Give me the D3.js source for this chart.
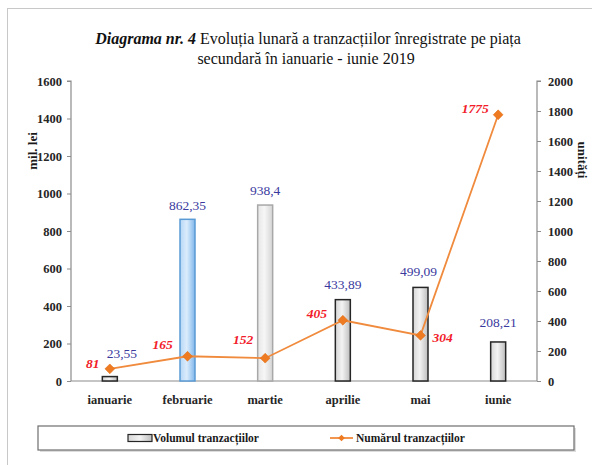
<!DOCTYPE html>
<html><head><meta charset="utf-8">
<script src="https://cdn.jsdelivr.net/npm/d3@7"></script>
<style>
html,body{margin:0;padding:0;background:#fff;}
svg{display:block;font-family:"Liberation Serif","Times New Roman",serif;}
svg text{font-family:"Liberation Serif","Times New Roman",serif;}
</style></head>
<body>
<svg id="c" width="592" height="465"></svg>
<script>
// ---- data ----
const categories = ["ianuarie","februarie","martie","aprilie","mai","iunie"];
const volume = [23.55, 862.35, 938.4, 433.89, 499.09, 208.21];
const volumeLabels = ["23,55","862,35","938,4","433,89","499,09","208,21"];
const counts = [81, 165, 152, 405, 304, 1775];
const leftTicks = [0,200,400,600,800,1000,1200,1400,1600];
const rightTicks = [0,200,400,600,800,1000,1200,1400,1600,1800,2000];

// ---- layout ----
const svg = d3.select("#c");
const L = 71, R = 537, T = 81, B = 381;
const x = d3.scaleBand().domain(categories).range([L, R]);
const yL = d3.scaleLinear().domain([0,1600]).range([B, T]);
const yR = d3.scaleLinear().domain([0,2000]).range([B, T]);

// frame
svg.append("line").attr("x1",7).attr("x2",592).attr("y1",8.5).attr("y2",8.5).attr("stroke","#c8c8c8");
svg.append("line").attr("x1",7.5).attr("x2",7.5).attr("y1",8).attr("y2",465).attr("stroke","#c8c8c8");

// gradients
const defs = svg.append("defs");
function grad(id, stops){
  const g = defs.append("linearGradient").attr("id",id).attr("x1","0").attr("x2","1").attr("y1","0").attr("y2","0");
  stops.forEach(s=>g.append("stop").attr("offset",s[0]).attr("stop-color",s[1]));
}
grad("gGray",[[0,"#d6d6d6"],[0.45,"#f3f3f3"],[1,"#bdbdbd"]]);
grad("gBlue",[[0,"#b5d7f6"],[0.45,"#dcecfc"],[1,"#7fb6ea"]]);
grad("gLight",[[0,"#e6e6e6"],[0.45,"#f6f6f6"],[1,"#d4d4d4"]]);
grad("gLeg",[[0,"#d6d6d6"],[0.5,"#f3f3f3"],[1,"#bdbdbd"]]);
const barStyle = c => c==="februarie" ? {fill:"url(#gBlue)",stroke:"#5b9bd5"}
                  : c==="martie" ? {fill:"url(#gLight)",stroke:"#a8a8a8"}
                  : {fill:"url(#gGray)",stroke:"#262626"};

// title
const title = svg.append("text").attr("x",308).attr("y",44).attr("text-anchor","middle")
  .attr("font-size",16).attr("fill","#111");
title.append("tspan").attr("font-weight","bold").attr("font-style","italic").text("Diagrama nr. 4");
title.append("tspan").text(" Evoluția lunară a tranzacțiilor înregistrate pe piața");
svg.append("text").attr("x",306).attr("y",64).attr("text-anchor","middle").attr("font-size",16)
  .attr("fill","#111").text("secundară în ianuarie - iunie 2019");

// axes
const fmt = d3.format("d");
const axL = svg.append("g").attr("transform",`translate(${L},0)`)
  .call(d3.axisLeft(yL).tickValues(leftTicks).tickFormat(fmt).tickSize(4).tickPadding(5));
const axR = svg.append("g").attr("transform",`translate(${R},0)`)
  .call(d3.axisRight(yR).tickValues(rightTicks).tickFormat(fmt).tickSize(4).tickPadding(7));
[axL,axR].forEach(a=>{
  a.attr("font-family",null);
  a.select(".domain").attr("stroke","#8c8c8c").attr("stroke-width",1.2);
  a.selectAll(".tick line").attr("stroke","#8c8c8c");
  a.selectAll(".tick text").attr("font-size",12.5)
    .attr("font-weight","bold").attr("fill","#262626");
});
axR.select(".domain").attr("d",`M4,${T}H0V${B}`);
axL.select(".domain").attr("d",`M-4,${T}H0V${B}`);
// x axis baseline
svg.append("line").attr("x1",L).attr("x2",R).attr("y1",B).attr("y2",B).attr("stroke","#8c8c8c").attr("stroke-width",1.2);

// axis titles
svg.append("text").attr("transform",`translate(37,151) rotate(-90)`).attr("text-anchor","middle")
  .attr("font-size",13).attr("font-weight","bold").attr("fill","#1a1a1a").text("mil. lei");
svg.append("text").attr("transform",`translate(578,160) rotate(90)`).attr("text-anchor","middle")
  .attr("font-size",13).attr("font-weight","bold").attr("fill","#1a1a1a").text("unități");

// category labels
svg.selectAll("text.cat").data(categories).join("text").attr("class","cat")
  .attr("x",d=>x(d)+x.bandwidth()/2).attr("y",404).attr("text-anchor","middle")
  .attr("font-size",12.5).attr("font-weight","bold").attr("fill","#262626").text(d=>d);

// bars
const bw = 15;
svg.selectAll("rect.bar").data(categories).join("rect").attr("class","bar")
  .attr("x",d=>x(d)+x.bandwidth()/2-bw/2).attr("width",bw)
  .attr("y",(d,i)=>yL(volume[i])).attr("height",(d,i)=>B-yL(volume[i]))
  .attr("fill",d=>barStyle(d).fill).attr("stroke",d=>barStyle(d).stroke).attr("stroke-width",1.5);

// bar labels (offsets relative to bar top / center)
const volOff = [[12,-19],[0,-9],[0,-10],[0,-11],[-2,-11],[0,-15]];
svg.selectAll("text.vl").data(categories).join("text").attr("class","vl")
  .attr("x",(d,i)=>x(d)+x.bandwidth()/2+volOff[i][0])
  .attr("y",(d,i)=>yL(volume[i])+volOff[i][1])
  .attr("text-anchor","middle").attr("font-size",13.5).attr("fill","#3a3a9e")
  .text((d,i)=>volumeLabels[i]);

// line
const cx = d=>x(d)+x.bandwidth()/2;
svg.append("path").datum(categories)
  .attr("d",d3.line().x(d=>cx(d)).y((d,i)=>yR(counts[i])))
  .attr("fill","none").attr("stroke","#f08a3c").attr("stroke-width",1.8);
svg.selectAll("path.mk").data(categories).join("path").attr("class","mk")
  .attr("d",d3.symbol(d3.symbolSquare,48))
  .attr("transform",(d,i)=>`translate(${cx(d)},${yR(counts[i])}) rotate(45)`)
  .attr("fill","#ee7a22").attr("stroke","#e06a10").attr("stroke-width",0.5);

// count labels
const cntOff = [[-17,-1],[-25,-7],[-22,-14],[-26,-2],[22,7],[-23,-2]];
svg.selectAll("text.cl").data(categories).join("text").attr("class","cl")
  .attr("x",(d,i)=>cx(d)+cntOff[i][0]).attr("y",(d,i)=>yR(counts[i])+cntOff[i][1])
  .attr("text-anchor","middle").attr("font-size",13.5).attr("font-weight","bold").attr("font-style","italic")
  .attr("fill","#f21c2a").text((d,i)=>counts[i]);

// legend
svg.append("rect").attr("x",40).attr("y",428).attr("width",536).attr("height",24)
  .attr("fill","#bbb").attr("opacity",0.5);
svg.append("rect").attr("x",38).attr("y",426).attr("width",536).attr("height",24)
  .attr("fill","#fff").attr("stroke","#6e6e6e").attr("stroke-width",1.2);
svg.append("rect").attr("x",128).attr("y",434.5).attr("width",24).attr("height",7)
  .attr("fill","url(#gLeg)").attr("stroke","#262626").attr("stroke-width",1.2);
svg.append("text").attr("x",153).attr("y",442).attr("font-size",11.5).attr("font-weight","bold")
  .attr("fill","#1a1a1a").text("Volumul tranzacțiilor");
svg.append("line").attr("x1",330).attr("x2",353).attr("y1",438).attr("y2",438).attr("stroke","#f08a3c").attr("stroke-width",1.8);
svg.append("path").attr("d",d3.symbol(d3.symbolSquare,22)).attr("transform","translate(341.5,438) rotate(45)").attr("fill","#ee7a22");
svg.append("text").attr("x",356).attr("y",442).attr("font-size",11.5).attr("font-weight","bold")
  .attr("fill","#1a1a1a").text("Numărul tranzacțiilor");
</script>
</body></html>
